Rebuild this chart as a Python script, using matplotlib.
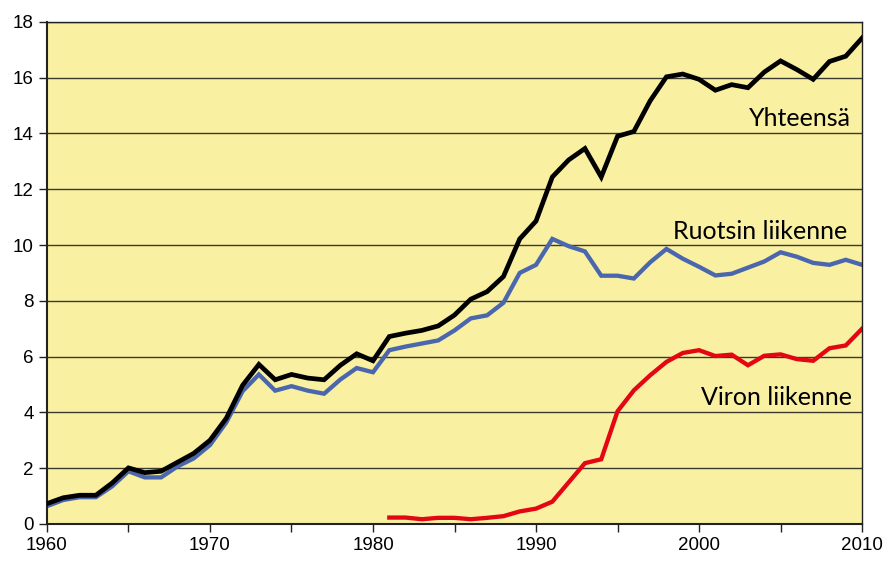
import matplotlib
matplotlib.use("Agg")
import matplotlib.pyplot as plt
import numpy as np

years = list(range(1960, 2011))
total = [0.73, 0.94, 1.03, 1.03, 1.47, 2.01, 1.84, 1.89, 2.21, 2.53,
         3.0, 3.79, 4.97, 5.72, 5.17, 5.36, 5.23, 5.17, 5.69, 6.1,
         5.85, 6.72, 6.84, 6.94, 7.1, 7.49, 8.06, 8.33, 8.87, 10.22,
         10.86, 12.44, 13.05, 13.46, 12.44, 13.9, 14.07, 15.17, 16.03, 16.13,
         15.94, 15.55, 15.75, 15.64, 16.2, 16.6, 16.29, 15.94, 16.58, 16.77,
         17.42]
sweden = [0.64, 0.86, 0.96, 0.96, 1.35, 1.89, 1.67, 1.67, 2.06, 2.35,
          2.83, 3.64, 4.76, 5.36, 4.78, 4.94, 4.78, 4.67, 5.18, 5.59,
          5.44, 6.23, 6.36, 6.47, 6.58, 6.94, 7.37, 7.48, 7.93, 9.0,
          9.29, 10.22, 9.96, 9.77, 8.9, 8.9, 8.8, 9.38, 9.86, 9.51,
          9.22, 8.91, 8.97, 9.19, 9.41, 9.74, 9.58, 9.36, 9.29, 9.47,
          9.29]
est_years = list(range(1981, 2011))
estonia = [0.23, 0.23, 0.17, 0.22, 0.22, 0.17, 0.22, 0.28, 0.45, 0.55,
           0.80, 1.49, 2.18, 2.32, 4.04, 4.79, 5.33, 5.81, 6.13, 6.23,
           6.02, 6.07, 5.69, 6.03, 6.08, 5.91, 5.85, 6.3, 6.4, 7.0]

labels = ["Yhteensä", "Ruotsin liikenne", "Viron liikenne"]
label_pos = [(2009.3, 14.55), (2009.1, 10.5), (2009.4, 4.55)]

fig = plt.figure(figsize=(8.86, 5.61), dpi=100)
ax = fig.add_axes([0.053, 0.066, 0.920, 0.895])
ax.set_facecolor("#F9F0A2")

ax.plot(years, total, color="black", lw=3.4, solid_joinstyle="miter", zorder=3)
ax.plot(years, sweden, color="#4A67AE", lw=3.1, solid_joinstyle="miter", zorder=2)
ax.plot(est_years, estonia, color="#E30613", lw=3.1, solid_joinstyle="miter", zorder=2)

ax.set_xlim(1960, 2010)
ax.set_ylim(0, 18)
ax.set_yticks(range(0, 19, 2))
ax.set_xticks(range(1960, 2011, 5))
ax.set_xticklabels([str(y) if y % 10 == 0 else "" for y in range(1960, 2011, 5)])
ax.yaxis.grid(True, color="#3a3a30", lw=1.0)
ax.set_axisbelow(True)
for s in ax.spines.values():
    s.set_color("#222222")
    s.set_linewidth(1.0)
ax.spines["left"].set_linewidth(1.5)
ax.spines["bottom"].set_linewidth(1.5)
ax.tick_params(axis="both", direction="out", length=6, width=1, color="#222222",
               labelsize=13.5)
for t in ax.get_xticklabels() + ax.get_yticklabels():
    t.set_family("Liberation Sans")

for txt, (x, y) in zip(labels, label_pos):
    ax.text(x, y, txt, ha="right", va="center", fontsize=18, family="Lato", color="black", zorder=4)

fig.savefig("out.png", dpi=100)
